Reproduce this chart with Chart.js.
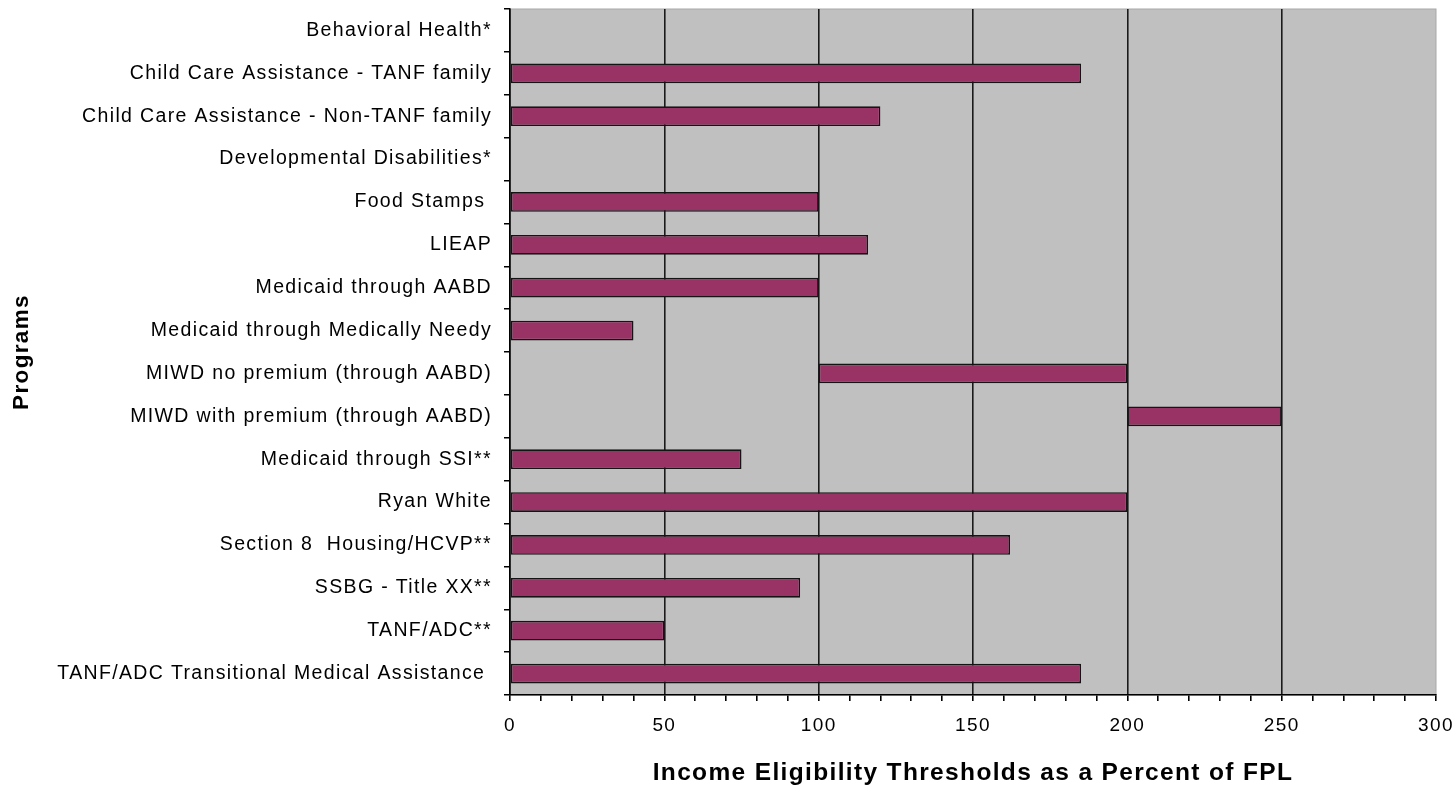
<!DOCTYPE html>
<html><head><meta charset="utf-8">
<script src="https://cdn.jsdelivr.net/npm/chart.js@4"></script>
<style>html,body{margin:0;padding:0;background:#fff;}#wrap{width:1455px;height:788px;}</style>
</head><body><div id="wrap"><canvas id="c" width="1455" height="788"></canvas></div>
<script>
const categories = [
  "Behavioral Health*",
  "Child Care Assistance - TANF family",
  "Child Care Assistance - Non-TANF family",
  "Developmental Disabilities*",
  "Food Stamps ",
  "LIEAP",
  "Medicaid through AABD",
  "Medicaid through Medically Needy",
  "MIWD no premium (through AABD)",
  "MIWD with premium (through AABD)",
  "Medicaid through SSI**",
  "Ryan White",
  "Section 8  Housing/HCVP**",
  "SSBG - Title XX**",
  "TANF/ADC**",
  "TANF/ADC Transitional Medical Assistance "
];
const barStart = [null, 0, 0, null, 0, 0, 0, 0, 100, 200, 0, 0, 0, 0, 0, 0];
const barEnd   = [null, 185, 120, null, 100, 116, 100, 40, 200, 250, 75, 200, 162, 94, 50, 185];
const xTicksMajor = [0, 50, 100, 150, 200, 250, 300];

const ranges = barStart.map((s, i) => (s === null ? null : [s, barEnd[i]]));

const spacingPlugin = {
  id: 'spacing',
  beforeLayout(chart) { chart.ctx.letterSpacing = '1.35px'; },
  beforeDraw(chart) { chart.ctx.letterSpacing = '1.35px'; }
};

const bgPlugin = {
  id: 'bg',
  beforeDraw(chart) {
    const a = chart.chartArea, ctx = chart.ctx;
    ctx.save();
    ctx.fillStyle = '#fff';
    ctx.fillRect(0, 0, chart.width, chart.height);
    ctx.fillStyle = '#C0C0C0';
    ctx.fillRect(a.left, a.top, a.right - a.left, a.bottom - a.top);
    ctx.strokeStyle = '#A8A8A8';
    ctx.lineWidth = 1;
    ctx.strokeRect(a.left, a.top, a.right - a.left, a.bottom - a.top);
    ctx.restore();
  }
};

new Chart(document.getElementById('c'), {
  type: 'bar',
  data: {
    labels: categories,
    datasets: [{
      data: ranges,
      backgroundColor: '#993366',
      borderColor: '#141414',
      borderWidth: 1.6,
      borderSkipped: false,
      barPercentage: 0.46,
      categoryPercentage: 1.0
    }]
  },
  plugins: [spacingPlugin, bgPlugin],
  options: {
    indexAxis: 'y',
    responsive: false,
    animation: false,
    devicePixelRatio: 1,
    layout: { padding: { top: 9, right: 19, left: 0, bottom: 0 } },
    plugins: { legend: { display: false }, tooltip: { enabled: false } },
    scales: {
      x: {
        min: 0, max: 300,
        afterFit(s) { s.height = 93; s.paddingLeft = 0; s.paddingRight = 0; },
        afterBuildTicks(s) {
          const t = [];
          for (let v = 0; v <= 300; v += 10) t.push({ value: v });
          s.ticks = t;
        },
        border: { display: true, color: '#000', width: 1.5 },
        grid: {
          drawOnChartArea: true,
          color: ctx => (ctx.tick && xTicksMajor.includes(ctx.tick.value) && ctx.tick.value !== 300 ? '#1a1a1a' : 'rgba(0,0,0,0)'),
          tickColor: '#000',
          lineWidth: 1.6,
          tickLength: 6
        },
        ticks: {
          autoSkip: false,
          maxRotation: 0,
          color: '#000',
          padding: 13,
          font: { family: 'Liberation Sans', size: 19 },
          callback: v => (xTicksMajor.includes(v) ? String(v) : '')
        },
        title: {
          display: true,
          text: 'Income Eligibility Thresholds as a Percent of FPL',
          color: '#000',
          font: { family: 'Liberation Sans', size: 24.5, weight: 'bold' },
          padding: { top: 15, bottom: 0 }
        }
      },
      y: {
        offset: true,
        afterFit(s) { s.width = 510; s.paddingTop = 0; s.paddingBottom = 0; },
        border: { display: true, color: '#000', width: 1.5 },
        grid: {
          offset: true,
          drawOnChartArea: false,
          color: '#000',
          tickLength: 6,
          lineWidth: 1.5
        },
        ticks: {
          autoSkip: false,
          color: '#000',
          padding: 12,
          font: { family: 'Liberation Sans', size: 19.5 }
        },
        title: {
          display: true,
          text: 'Programs',
          color: '#000',
          font: { family: 'Liberation Sans', size: 22.5, weight: 'bold' },
          padding: { top: 8, bottom: 0 }
        }
      }
    }
  }
});
</script>
</body></html>
